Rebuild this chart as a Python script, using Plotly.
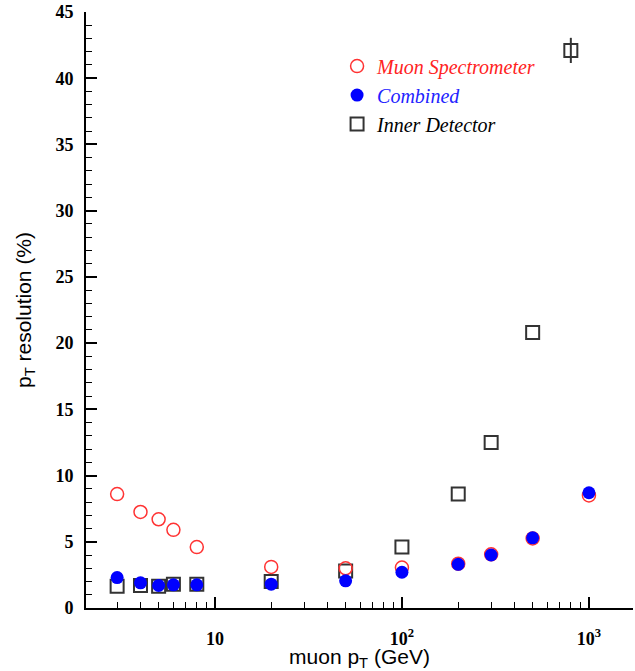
import plotly.graph_objects as go
import numpy as np

# Data
pt_ms = [3, 4, 5, 6, 8, 20, 50, 100, 200, 300, 500, 1000]
res_ms = [8.6, 7.25, 6.7, 5.9, 4.6, 3.1, 3.0, 3.05, 3.35, 4.05, 5.25, 8.5]

pt_comb = [3, 4, 5, 6, 8, 20, 50, 100, 200, 300, 500, 1000]
res_comb = [2.3, 1.9, 1.7, 1.75, 1.75, 1.8, 2.05, 2.7, 3.3, 4.0, 5.3, 8.7]

pt_id = [3, 4, 5, 6, 8, 20, 50, 100, 200, 300, 500, 800]
res_id = [1.65, 1.7, 1.65, 1.8, 1.8, 2.0, 2.8, 4.6, 8.6, 12.5, 20.8, 42.1]
err_id = [0, 0, 0, 0, 0, 0, 0, 0, 0, 0, 0, 0.95]

x_tickvals = [10, 100, 1000]
x_ticktext = ["10", "10<sup>2</sup>", "10<sup>3</sup>"]
y_tickvals = [0, 5, 10, 15, 20, 25, 30, 35, 40, 45]

x_range = [np.log10(2.045), np.log10(1720)]
y_range = [0, 45]

fig = go.Figure()

# invisible copy on the overlay axes so that their labels are drawn
fig.add_trace(go.Scatter(
    x=pt_id, y=res_id, mode="markers", xaxis="x2", yaxis="y2",
    marker=dict(opacity=0, size=1), showlegend=False, hoverinfo="skip",
))

fig.add_trace(go.Scatter(
    x=pt_id, y=res_id, mode="markers",
    name="<i><span style='color:black'>Inner Detector</span></i>",
    marker=dict(symbol="square-open", size=13, color="#333333", line=dict(width=2, color="#333333")),
    error_y=dict(type="data", array=err_id, visible=True, color="#333333", thickness=2, width=0),
    legendrank=3,
))
fig.add_trace(go.Scatter(
    x=pt_ms, y=res_ms, mode="markers",
    name="<i><span style='color:#ff2222'>Muon Spectrometer</span></i>",
    marker=dict(symbol="circle-open", size=13, color="#ff3333", line=dict(width=1.5, color="#ff3333")),
    legendrank=1,
))
fig.add_trace(go.Scatter(
    x=pt_comb, y=res_comb, mode="markers",
    name="<i><span style='color:#2222ff'>Combined</span></i>",
    marker=dict(symbol="circle", size=13, color="#0000ff"),
    legendrank=2,
))

tickfont = dict(family="Liberation Serif", size=18, color="black", weight="bold")
titlefont = dict(family="Liberation Sans", size=21)

fig.update_layout(
    width=635, height=671,
    margin=dict(l=86, r=2, t=12, b=63),
    plot_bgcolor="white", paper_bgcolor="white",
    font=dict(family="Liberation Sans", color="black"),
    legend=dict(
        x=0.459, y=0.942, xanchor="left", yanchor="top",
        font=dict(family="Liberation Serif", size=20),
        bgcolor="rgba(0,0,0,0)",
    ),
    # primary axes: lines and visible inside ticks only
    xaxis=dict(
        type="log", range=x_range,
        showgrid=False, zeroline=False, automargin=False,
        showline=True, linecolor="black", linewidth=1.5,
        ticks="inside", ticklen=11, tickwidth=1.5, tickcolor="black",
        tickmode="array", tickvals=x_tickvals, showticklabels=False,
        minor=dict(dtick="D1", ticks="inside", ticklen=6, tickwidth=1.2, tickcolor="black", showgrid=False),
    ),
    yaxis=dict(
        range=y_range,
        showgrid=False, zeroline=False, automargin=False,
        showline=True, linecolor="black", linewidth=1.5,
        ticks="inside", ticklen=11, tickwidth=1.5, tickcolor="black",
        tickmode="array", tickvals=y_tickvals, showticklabels=False,
        minor=dict(dtick=1, ticks="inside", ticklen=6, tickwidth=1.2, tickcolor="black", showgrid=False),
    ),
    # overlay axes: tick labels (pushed out by transparent outside ticks) and titles
    xaxis2=dict(
        type="log", range=x_range, overlaying="x", side="bottom", anchor="y",
        showgrid=False, zeroline=False, automargin=False, showline=False,
        ticks="outside", ticklen=14, tickcolor="rgba(0,0,0,0)",
        tickmode="array", tickvals=x_tickvals, ticktext=x_ticktext,
        tickfont=tickfont,
        title=dict(text="muon p<sub>T</sub> (GeV)", font=titlefont, standoff=0),
    ),
    yaxis2=dict(
        range=y_range, overlaying="y", side="left", anchor="x",
        showgrid=False, zeroline=False, automargin=False, showline=False,
        ticks="outside", ticklen=8, tickcolor="rgba(0,0,0,0)",
        tickmode="array", tickvals=y_tickvals,
        tickfont=tickfont,
        title=dict(text="p<sub>T</sub> resolution (%)", font=titlefont, standoff=18),
    ),
)

fig.write_html("out.html", config={"displayModeBar": False},
               post_script="document.body.style.margin='0';document.body.style.padding='0';")
